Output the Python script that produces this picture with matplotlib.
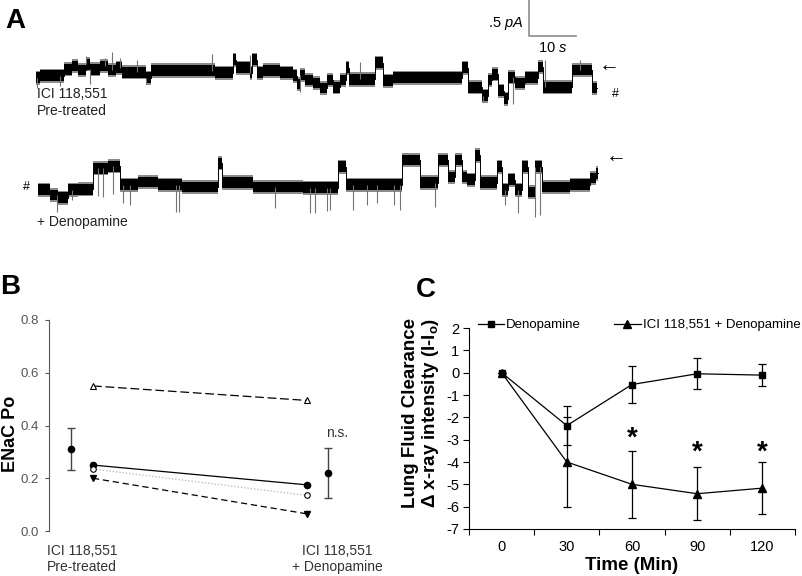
import numpy as np
import matplotlib
matplotlib.use('Agg')
import matplotlib.pyplot as plt
import matplotlib.transforms as mtransforms
from matplotlib.lines import Line2D

plt.rcParams['font.family'] = ['Liberation Sans', 'DejaVu Sans']
plt.rcParams['axes.unicode_minus'] = False
plt.rcParams['mathtext.fontset'] = 'custom'
plt.rcParams['mathtext.rm'] = 'Liberation Sans'
plt.rcParams['mathtext.it'] = 'Liberation Sans:italic'
plt.rcParams['mathtext.bf'] = 'Liberation Sans:bold'

# ---- panel A: single channel recordings (time in s, current in pA above closed level)
trace1_t = [0.0, 0.85, 5.96, 7.66, 8.94, 10.6, 11.5, 13.6, 15.3, 17.0, 18.3, 23.4, 24.5,
            32.8, 38.1, 41.9, 42.6, 45.5, 46.0, 47.0, 48.3, 51.9, 54.7, 55.5, 56.2, 57.2,
            58.9, 60.4, 61.9, 63.2, 64.7, 66.0, 66.6, 72.1, 73.8, 76.0, 90.6, 91.9, 94.9,
            96.2, 97.0, 98.3, 99.6, 100.4, 101.9, 104.0, 106.8, 107.9, 114.0, 118.3]
trace1_i = [0.21, 0.24, 0.33, 0.375, 0.32, 0.40, 0.33, 0.375, 0.32, 0.35, 0.29, 0.21, 0.31,
            0.31, 0.28, 0.46, 0.35, 0.28, 0.46, 0.28, 0.31, 0.28, 0.24, 0.125, 0.25, 0.18,
            0.14, 0.07, 0.18, 0.08, 0.18, 0.35, 0.19, 0.42, 0.17, 0.21, 0.35, 0.08, -0.04,
            0.18, 0.26, 0.03, -0.08, 0.22, 0.14, 0.21, 0.36, 0.08, 0.32, 0.07]
trace1_end = 119.4
spikes1_t = [10.6, 14.7, 16.2, 17.9, 21.5, 37.4, 45.5, 68.9, 108.3, 115.7,
             0.2, 5.1, 11.5, 23.4, 56.2, 95.1, 101.5]
spikes1_i = [0.51, 0.49, 0.57, 0.49, 0.46, 0.54, 0.53, 0.43, 0.46, 0.46,
             0.07, 0.10, 0.125, 0.125, 0.01, -0.125, -0.15]

trace2_t = [0.43, 2.98, 4.68, 6.81, 8.94, 12.1, 15.3, 17.9, 21.7, 26.0, 31.1, 38.7, 39.6,
            46.2, 56.8, 64.3, 66.0, 77.9, 81.7, 85.5, 87.7, 89.1, 90.6, 91.7, 93.4, 94.5,
            98.1, 99.1, 100.4, 101.9, 103.4, 104.7, 106.2, 107.7, 113.6, 117.9, 119.1]
trace2_i = [-0.04, -0.11, -0.15, -0.04, -0.03, 0.26, 0.29, 0.03, 0.07, 0.03, 0.0, 0.33, 0.06,
            0.0, -0.01, 0.28, 0.03, 0.375, 0.06, 0.375, 0.14, 0.375, 0.14, 0.10, 0.44, 0.06,
            0.28, -0.04, 0.10, -0.04, 0.28, -0.07, 0.28, 0.0, 0.03, 0.125, 0.19]
trace2_end = 119.6
spikes2_t = [4.5, 7.7, 13.2, 14.3, 16.4, 18.5, 20.0, 29.8, 30.4, 50.9, 58.3, 59.4, 61.9,
             62.6, 67.4, 70.4, 72.6, 76.2, 77.4, 84.9, 99.8, 102.6, 106.2, 107.2]
spikes2_i = [-0.35, -0.18, -0.125, -0.14, -0.10, -0.22, -0.25, -0.35, -0.35, -0.29, -0.36,
             -0.36, -0.33, -0.32, -0.32, -0.25, -0.22, -0.25, -0.32, -0.28, -0.25, -0.36,
             -0.42, -0.39]

# ---- panel B: ENaC Po
b_conditions = ['ICI 118,551\nPre-treated', 'ICI 118,551\n+ Denopamine']
b_cells = {
    'open_tri': [0.55, 0.495],
    'filled_circle': [0.25, 0.175],
    'open_circle': [0.235, 0.135],
    'filled_tri_down': [0.20, 0.065],
}
b_mean = [0.31, 0.22]
b_err = [0.08, 0.095]

# ---- panel C: lung fluid clearance
c_times = ['0', '30', '60', '90', '120']
c_deno = [0, -2.37, -0.53, -0.05, -0.11]
c_deno_err = [0, 0.88, 0.82, 0.70, 0.50]
c_ici = [0, -4.0, -5.0, -5.42, -5.17]
c_ici_err = [0, 2.0, 1.5, 1.18, 1.17]
c_star_idx = [2, 3, 4]
c_star_y = [-2.95, -3.6, -3.6]

fig = plt.figure(figsize=(8.03, 5.76), dpi=100)

# ================= Panel A =================
axA = fig.add_axes([0, 1 - 240 / 576, 1, 240 / 576])
axA.set_xlim(-36 / 4.7, (803 - 36) / 4.7)
axA.set_ylim(93 / 72 - 240 / 72, 93 / 72)
axA.axis('off')

BAND = 0.075
OFFSET2 = -94 / 72


def draw_trace(ax, t, cur, t_end, off, sp_t, sp_i):
    t = np.asarray(t)
    cur = np.asarray(cur)
    tt = np.append(t, t_end)
    ll = np.append(cur, cur[-1]) + off
    ax.fill_between(tt, ll - BAND - 0.025, ll + BAND + 0.025, step='post', color='0.55', lw=0)
    ax.fill_between(tt, ll - BAND, ll + BAND, step='post', color='black', lw=0)
    ax.step(tt, ll, where='post', color='black', lw=0.7)
    for st, si in zip(sp_t, sp_i):
        k = max(np.searchsorted(t, st, side='right') - 1, 0)
        ax.vlines(st, cur[k] + off, si + off, color='0.45', lw=0.8)


draw_trace(axA, trace1_t, trace1_i, trace1_end, 0, spikes1_t, spikes1_i)
draw_trace(axA, trace2_t, trace2_i, trace2_end, OFFSET2, spikes2_t, spikes2_i)

# scale bar
axA.plot([104.9, 104.9, 114.9], [93 / 72, 93 / 72 - 0.5, 93 / 72 - 0.5], color='0.55', lw=1.2)
axA.text(103.6, 0.96, r'.5 $\mathit{pA}$', ha='right', va='center', fontsize=10.5)
axA.text(109.9, 0.63, r'10 $\mathit{s}$', ha='center', va='center', fontsize=10.5)

axA.text(122.0, 0.375, '←', ha='center', va='center', fontsize=15)
axA.text(123.3, -0.02, '#', ha='center', va='center', fontsize=9)
axA.text(123.5, 0.42 + OFFSET2, '←', ha='center', va='center', fontsize=15)
axA.text(-2.1, 0.0 + OFFSET2, '#', ha='center', va='center', fontsize=9)

axA.text(0.2, -0.13, 'ICI 118,551\nPre-treated', ha='left', va='center', fontsize=10,
         color='#222222', linespacing=1.3)
axA.text(0.2, -1.79, '+ Denopamine', ha='left', va='center', fontsize=10, color='#222222')

# ================= Panel B =================
axB = fig.add_axes([49 / 803, (576 - 531) / 576, 351 / 803, 211 / 576])
xB = [0, 1]
axB.plot(xB, b_cells['open_tri'], color='black', lw=0.9, dashes=(7, 3),
         marker='^', mfc='white', mec='black', ms=4, mew=0.8)
axB.plot(xB, b_cells['filled_circle'], color='black', lw=0.9, marker='o', ms=4.5)
axB.plot(xB, b_cells['open_circle'], color='0.7', lw=0.9, ls=':',
         marker='o', mfc='white', mec='black', ms=4, mew=0.8)
axB.plot(xB, b_cells['filled_tri_down'], color='black', lw=0.9, dashes=(5, 3),
         marker='v', ms=4.5)
axB.errorbar([-0.103, 1.098], b_mean, yerr=b_err, fmt='o', color='black', ms=4.5,
             ecolor='#444444', elinewidth=1.0, capsize=3, capthick=1.0)
axB.text(1.14, 0.37, 'n.s.', ha='center', va='center', fontsize=10, color='#333333')

axB.set_xlim((49 - 93) / 214, (400 - 93) / 214)
axB.set_ylim(0, 0.8)
axB.set_yticks([0.0, 0.2, 0.4, 0.6, 0.8])
axB.set_yticklabels(['0.0', '0.2', '0.4', '0.6', '0.8'])
axB.tick_params(axis='y', direction='out', length=3, width=0.8, colors='#555555',
                labelsize=9.5, pad=4)
axB.set_xticks([])
for s in ['top', 'right', 'bottom']:
    axB.spines[s].set_visible(False)
axB.spines['left'].set_color('#555555')
axB.spines['left'].set_linewidth(0.8)
axB.set_ylabel('ENaC Po', fontsize=13, fontweight='bold')
axB.yaxis.set_label_coords(-0.085, 0.46)
trB = mtransforms.blended_transform_factory(axB.transData, axB.transAxes)
for xc, lab in zip([-0.05, 1.14], b_conditions):
    axB.text(xc, -0.06, lab, transform=trB, ha='center', va='top', fontsize=10,
             color='#333333', linespacing=1.25)

# ================= Panel C =================
axC = fig.add_axes([469 / 803, (576 - 529) / 576, 326 / 803, 201 / 576])
xc = np.arange(len(c_times))
axC.errorbar(xc, c_deno, yerr=c_deno_err, color='black', lw=0.9, marker='s', ms=5,
             elinewidth=0.9, capsize=3, capthick=0.9, label='Denopamine')
axC.errorbar(xc, c_ici, yerr=c_ici_err, color='black', lw=0.9, marker='^', ms=5.5,
             elinewidth=0.9, capsize=3, capthick=0.9, label='ICI 118,551 + Denopamine')
for k, ys in zip(c_star_idx, c_star_y):
    axC.text(xc[k], ys, '*', ha='center', va='center', fontsize=20, fontweight='bold')

axC.set_xlim(-0.5, len(c_times) - 0.5)
axC.set_ylim(-7, 2)
axC.set_yticks(range(-7, 3))
axC.set_yticklabels([str(v) for v in range(-7, 3)])
axC.set_xticks(np.arange(-0.5, len(c_times)))
axC.set_xticklabels([])
axC.set_xticks(xc, minor=True)
axC.set_xticklabels(c_times, minor=True)
axC.tick_params(axis='x', which='major', direction='out', length=4, width=0.8)
axC.tick_params(axis='x', which='minor', length=0, labelsize=10.5, pad=8)
axC.tick_params(axis='y', direction='out', length=4, width=0.8, labelsize=10.5, pad=3)
for s in ['top', 'right']:
    axC.spines[s].set_visible(False)
axC.set_xlabel('Time (Min)', fontsize=13.5, fontweight='bold', labelpad=2)
axC.set_ylabel('Lung Fluid Clearance\nΔ x-ray intensity (I-I$_{\\mathbf{o}}$)',
               fontsize=13.5, fontweight='bold', linespacing=1.1)
axC.yaxis.set_label_coords(-0.085, 0.577)

h = [Line2D([], [], color='black', lw=0.9, marker='s', ms=5),
     Line2D([], [], color='black', lw=0.9, marker='^', ms=5.5)]
fig.legend(h, ['Denopamine', 'ICI 118,551 + Denopamine'], loc='center left',
           bbox_to_anchor=(478 / 803, (576 - 325) / 576), ncol=2, frameon=False,
           fontsize=9.5, handlelength=2.0, handletextpad=0.15, columnspacing=2.5,
           borderpad=0, borderaxespad=0)

# panel letters
for lab, px, py in [('A', 15, 21), ('B', 10, 287), ('C', 426, 290)]:
    fig.text(px / 803, 1 - py / 576, lab, ha='center', va='center', fontsize=20,
             fontweight='bold')

fig.savefig('out.png', dpi=100)
